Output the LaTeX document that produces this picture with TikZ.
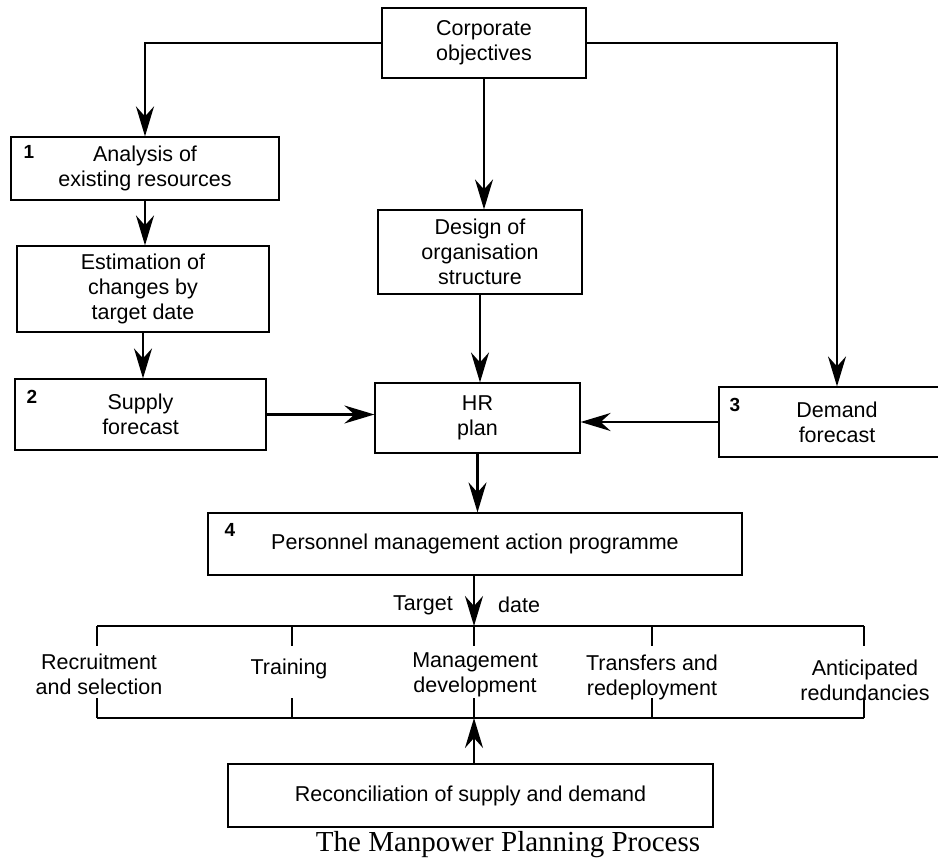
\documentclass[tikz,border=0pt]{standalone}
\usepackage{fontspec}
\setmainfont{Liberation Sans}
\newfontfamily\capfont{Liberation Serif}
\usetikzlibrary{arrows.meta, positioning}
\newcommand{\boxfont}{\fontsize{21.5}{25}\selectfont}
\tikzset{
    stage/.style={rectangle, draw, line width=1.2pt, align=center,
                  inner sep=0pt, font=\boxfont},
    numtag/.style={anchor=north west, inner sep=0pt,
                   font=\bfseries\fontsize{19}{19}\selectfont},
    flow/.style={-{Stealth[length=30pt, width=18pt, inset=10pt]}, line width=2.2pt},
    brace/.style={line width=1.6pt},
    item/.style={align=center, inner sep=0pt, font=\boxfont},
}

\begin{document}
\begin{tikzpicture}[x=1pt, y=-1pt]
    \useasboundingbox (0,0) rectangle (938,858);
    \node[stage, minimum width=204pt, minimum height=70pt] (corp) at (484,43) {Corporate\\objectives};
    \node[stage, minimum width=268pt, minimum height=63pt] (anal) at (145,168.5) {Analysis of\\existing resources};
    \node[stage, minimum width=252pt, minimum height=86pt] (est) at (143,289) {Estimation of\\changes by\\target date};
    \node[stage, minimum width=251pt, minimum height=71pt] (sup) at (140.5,414.5) {Supply\\forecast};
    \node[stage, minimum width=204pt, minimum height=84pt] (des) at (480,252) {Design of\\organisation\\structure};
    \node[stage, minimum width=205pt, minimum height=70pt] (hr) at (477.5,418) {HR\\plan};
    \node[stage, minimum width=236pt, minimum height=70pt] (dem) at (837,422) {Demand\\forecast};
    \node[stage, minimum width=534pt, minimum height=62pt] (pmap) at (475,544) {Personnel management action programme};
    \node[stage, minimum width=485pt, minimum height=63pt] (rec) at (470.5,795.5) {Reconciliation of supply and demand};

    \node[numtag] (t1) at ([xshift=13pt, yshift=-9pt]anal.north west) {1};
    \node[numtag] (t2) at ([xshift=12pt, yshift=-12pt]sup.north west) {2};
    \node[numtag] (t3) at ([xshift=11pt, yshift=-12pt]dem.north west) {3};
    \node[numtag] (t4) at ([xshift=17pt, yshift=-11pt]pmap.north west) {4};

    \draw[flow] (corp.west) -| (anal.north);
    \draw[flow] (corp.east) -| (dem.north);
    \draw[flow] (corp.south) -- (corp.south |- des.north);
    \draw[flow] (anal.south) -- (anal.south |- est.north);
    \draw[flow] (est.south) -- (est.south |- sup.north);
    \draw[flow] (des.south) -- (des.south |- hr.north);
    \draw[flow] (sup.east) -- (sup.east -| hr.west);
    \draw[flow] (dem.west) -- (dem.west -| hr.east);
    \draw[flow] (hr.south) -- (hr.south |- pmap.north);

    % bracket of actions
    \coordinate (bt) at (474,626);
    \coordinate (bb) at (474,718);
    \draw[brace] (97,626) -- (864,626);
    \draw[brace] (97,718) -- (864,718);
    \foreach \x in {97,292,474,652,864} {
        \draw[brace] (\x,626) -- ++(0,20);
        \draw[brace] (\x,718) -- ++(0,-20);
    }
    \node[item] (rs) at (99,674) {Recruitment\\and selection};
    \node[item] (tr) at (289,669) {Training};
    \node[item] (md) at (475,675) {Management\\development};
    \node[item] (tf) at (652,677) {Transfers and\\redeployment};
    \node[item] (ar) at (865,680) {Anticipated\\redundancies};

    \draw[flow] (bt |- pmap.south) -- (bt);
    \draw[flow] (bb |- rec.north) -- (bb);
    \coordinate (mid) at (474,605);
    \node[item, left=21pt of mid] (tg) {Target};
    \node[item, right=24pt of mid] (dt) {date};

    \node[font=\capfont\fontsize{29}{32}\selectfont, inner sep=0pt, anchor=base] (cap) at (508,851) {The Manpower Planning Process};
\end{tikzpicture}
\end{document}
